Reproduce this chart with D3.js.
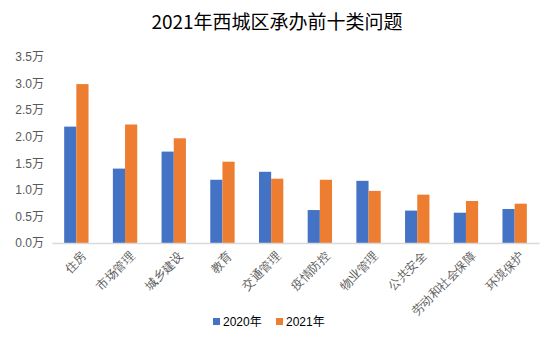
<!DOCTYPE html>
<html><head><meta charset="utf-8">
<script src="https://cdn.jsdelivr.net/npm/d3@7"></script>
<style>body{margin:0;background:#fff;}svg{display:block;font-family:"Noto Sans CJK SC","Liberation Sans",sans-serif;}</style>
</head><body>
<svg id="c" width="554" height="337"></svg>
<script>
const categories = ["住房","市场管理","城乡建设","教育","交通管理","疫情防控","物业管理","公共安全","劳动和社会保障","环境保护"];
const series2020 = [2.19,1.40,1.72,1.19,1.34,0.62,1.17,0.61,0.57,0.64];
const series2021 = [2.99,2.23,1.97,1.53,1.21,1.19,0.98,0.91,0.79,0.74];
const seriesNames = ["2020年","2021年"];
const colors = ["#4472C4","#ED7D31"];
const yTicks = [0,0.5,1.0,1.5,2.0,2.5,3.0,3.5];

const svg = d3.select("#c");
const m = {l:52, r:15, t:57, b:94};
const W = 554, H = 337;
const x = d3.scaleBand().domain(categories).range([m.l, W-m.r]).paddingInner(0.5).paddingOuter(0.25);
const x1 = d3.scaleBand().domain(seriesNames).range([0, x.bandwidth()]);
const y = d3.scaleLinear().domain([0,3.5]).range([H-m.b, m.t]);

svg.append("text").attr("x",277).attr("y",29).attr("text-anchor","middle")
  .attr("font-size",19).attr("fill","#000").text("2021年西城区承办前十类问题");

// y axis
const ya = svg.append("g").attr("transform",`translate(${m.l},0)`)
  .call(d3.axisLeft(y).tickValues(yTicks).tickSize(0).tickPadding(8).tickFormat(d=>d3.format(".1f")(d)+"万"));
ya.select(".domain").remove();
ya.selectAll("text").attr("font-size",12).attr("fill","#595959").attr("font-family","Liberation Sans, Noto Sans CJK SC, sans-serif");

const data = categories.map((c,i)=>({c, vals:[series2020[i],series2021[i]]}));
const g = svg.append("g");
data.forEach(d=>{
  d.vals.forEach((v,j)=>{
    g.append("rect").attr("x",x(d.c)+x1(seriesNames[j])).attr("width",x1.bandwidth())
      .attr("y",y(v)).attr("height",y(0)-y(v)).attr("fill",colors[j]);
  });
});

// x axis
const xa = svg.append("g").attr("transform",`translate(0,${y(0)})`)
  .call(d3.axisBottom(x).tickSize(0).tickPadding(0));
xa.select(".domain").attr("stroke","#d9d9d9").attr("stroke-width",1.5);
xa.selectAll("text").attr("font-size",12).attr("fill","#595959")
  .attr("text-anchor","end").attr("dy","0")
  .attr("transform",function(){ return `translate(${x.bandwidth()/2-2},14) rotate(-45)`; })
  .attr("y",0).attr("x",0);

// legend
const lg = svg.append("g").attr("transform","translate(213,323)");
seriesNames.forEach((s,i)=>{
  const gx = i*63;
  lg.append("rect").attr("x",gx).attr("y",-5).attr("width",7).attr("height",7).attr("fill",colors[i]);
  lg.append("text").attr("x",gx+10).attr("y",3).attr("font-size",12).attr("fill","#000")
    .attr("font-family","Liberation Sans, Noto Sans CJK SC, sans-serif").text(s);
});
</script>
</body></html>
